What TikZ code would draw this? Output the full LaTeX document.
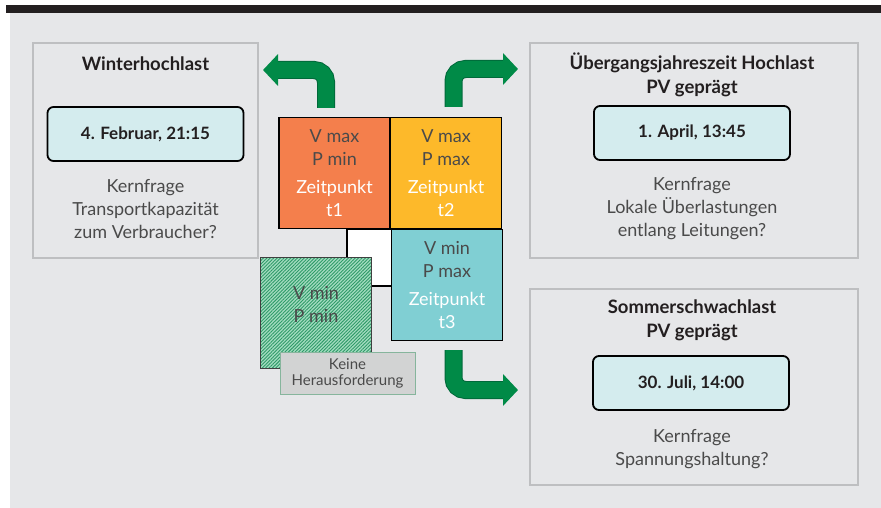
\documentclass[tikz,border=0pt]{standalone}
\usepackage{fontspec}
\setmainfont{Lato}
\usepackage{tikz}
\usetikzlibrary{arrows.meta,patterns.meta}

\definecolor{bggrey}{HTML}{E6E7E9}
\definecolor{topbar}{HTML}{231F20}
\definecolor{panelline}{HTML}{BEBFC1}
\definecolor{datefill}{HTML}{D4ECEE}
\definecolor{cellorange}{HTML}{F47F4C}
\definecolor{cellyellow}{HTML}{FDB92A}
\definecolor{cellteal}{HTML}{80CFD3}
\definecolor{hatchbase}{HTML}{A3DCC0}
\definecolor{hatchline}{HTML}{2E9A68}
\definecolor{keinefill}{HTML}{D2D3D3}
\definecolor{keineline}{HTML}{86B59C}
\definecolor{arrowgreen}{HTML}{008A47}
\definecolor{arrowdark}{HTML}{00693A}
\definecolor{bodygrey}{HTML}{4A4A4A}

\tikzset{
  panel/.style = {draw=panelline, line width=1.2pt, fill=bggrey},
  datebox/.style = {draw=black, line width=1.8pt, fill=datefill, rounded corners=6pt,
                    minimum width=196pt, minimum height=54pt,
                    font=\fontsize{17}{20}\selectfont\bfseries, text=topbar},
  titletext/.style = {align=center, font=\fontsize{18.5}{24}\selectfont\bfseries, text=topbar},
  bodytext/.style = {align=center, font=\fontsize{18}{23}\selectfont, text=bodygrey},
  cell/.style = {draw=black, line width=1.8pt, minimum size=111pt, align=center,
                 font=\fontsize{18}{23}\selectfont, text=bodygrey},
  bigarrow/.style = {draw=arrowgreen, line width=16pt, rounded corners=12pt,
                     -{Triangle[width=31pt, length=15pt]}},
  arrowedge/.style = {draw=arrowdark, line width=18pt, rounded corners=12pt,
                      shorten >=14pt}
}

\begin{document}
\begin{tikzpicture}[x=1pt, y=-1pt]
  \useasboundingbox (0,0) rectangle (881,508);
  \fill[bggrey] (10,13) rectangle (881,508);
  \fill[topbar] (6,5) rectangle (881,13);

  % three scenario panels
  \node[panel, minimum width=225pt, minimum height=215pt] (winter) at (145.5,150.5) {};
  \node[panel, minimum width=328pt, minimum height=215pt] (spring) at (694,150.5) {};
  \node[panel, minimum width=328pt, minimum height=196pt] (summer) at (694,387) {};

  \node[titletext] (wintertitle) at (145.5,64) {Winterhochlast};
  \node[datebox] (winterdate) at (145.5,134) {4. Februar, 21:15};
  \node[bodytext] (winterq) at (145.5,209) {Kernfrage\\Transportkapazität\\zum Verbraucher?};

  \node[titletext] (springtitle) at (692,75) {Übergangsjahreszeit Hochlast\\PV geprägt};
  \node[datebox] (springdate) at (692,133) {1. April, 13:45};
  \node[bodytext] (springq) at (692,209) {Kernfrage\\Lokale Überlastungen\\entlang Leitungen?};

  \node[titletext] (summertitle) at (692,320) {Sommerschwachlast\\PV geprägt};
  \node[datebox] (summerdate) at (691,383) {30. Juli, 14:00};
  \node[bodytext] (summerq) at (692,449.5) {Kernfrage\\Spannungshaltung?};

  % matrix of time points
  \node[cell, fill=cellorange] (t1) at (334.5,173)
    {V max\\P min\\[5pt]\textcolor{white}{Zeitpunkt}\\\textcolor{white}{t1}};
  \node[cell, fill=cellyellow] (t2) at (446,173)
    {V max\\P max\\[5pt]\textcolor{white}{Zeitpunkt}\\\textcolor{white}{t2}};
  \node[draw=black, line width=1.8pt, fill=white, minimum width=100pt, minimum height=57pt] (gap) at (397,257.5) {};
  \node[cell, fill=cellteal] (t3) at (447,285)
    {V min\\P max\\[5pt]\textcolor{white}{Zeitpunkt}\\\textcolor{white}{t3}};
  \node[draw=black!75, line width=1.8pt, minimum size=111pt,
        preaction={fill=hatchbase},
        pattern={Lines[angle=45, distance=2.4pt, line width=0.9pt]}, pattern color=hatchline]
    (none) at (316,313) {};
  \node[align=center, font=\fontsize{18}{23}\selectfont, text=bodygrey] (nonetext) at (316,304) {V min\\P min};
  \node[draw=keineline, line width=1pt, fill=keinefill, minimum width=135pt, minimum height=42pt,
        align=center, font=\fontsize{15}{16}\selectfont, text=bodygrey] (keine) at (347.5,373)
    {Keine\\Herausforderung};

  % arrows to the panels
  \coordinate (a1s) at (326,108);
  \coordinate (a1e) at (263,70);
  \coordinate (a2s) at (453.5,107);
  \coordinate (a2e) at (518,69);
  \coordinate (a3s) at (453.5,350);
  \coordinate (a3e) at (518,390);
  \draw[arrowedge] (a1s) |- (a1e);
  \draw[bigarrow] (a1s) |- (a1e);
  \draw[arrowedge] (a2s) |- (a2e);
  \draw[bigarrow] (a2s) |- (a2e);
  \draw[arrowedge] (a3s) |- (a3e);
  \draw[bigarrow] (a3s) |- (a3e);
\end{tikzpicture}
\end{document}
